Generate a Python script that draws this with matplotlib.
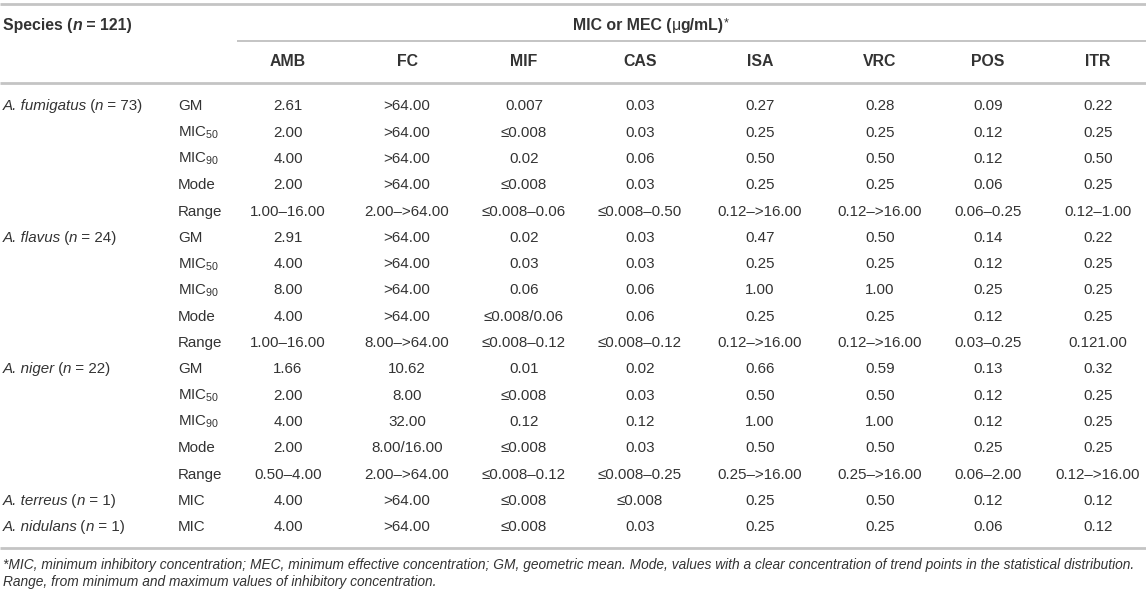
import matplotlib
matplotlib.use("Agg")
import matplotlib.pyplot as plt

plt.rcParams['font.family'] = ['Liberation Sans', 'DejaVu Sans']
plt.rcParams['mathtext.fontset'] = 'custom'
plt.rcParams['mathtext.rm'] = 'Liberation Sans'
plt.rcParams['mathtext.it'] = 'Liberation Sans:italic'
plt.rcParams['mathtext.bf'] = 'Liberation Sans:bold'

# ---------------- data ----------------
species_names = ["A. fumigatus", "A. flavus", "A. niger", "A. terreus", "A. nidulans"]
species_n = ["73", "24", "22", "1", "1"]
species_nrows = [5, 5, 5, 1, 1]
stats_block = ["GM", r"MIC$_{50}$", r"MIC$_{90}$", "Mode", "Range"]
stats = stats_block * 3 + ["MIC", "MIC"]

drugs = ["AMB", "FC", "MIF", "CAS", "ISA", "VRC", "POS", "ITR"]

AMB = ["2.61", "2.00", "4.00", "2.00", "1.00–16.00",
       "2.91", "4.00", "8.00", "4.00", "1.00–16.00",
       "1.66", "2.00", "4.00", "2.00", "0.50–4.00",
       "4.00", "4.00"]
FC = [">64.00", ">64.00", ">64.00", ">64.00", "2.00–>64.00",
      ">64.00", ">64.00", ">64.00", ">64.00", "8.00–>64.00",
      "10.62", "8.00", "32.00", "8.00/16.00", "2.00–>64.00",
      ">64.00", ">64.00"]
MIF = ["0.007", "≤0.008", "0.02", "≤0.008", "≤0.008–0.06",
       "0.02", "0.03", "0.06", "≤0.008/0.06", "≤0.008–0.12",
       "0.01", "≤0.008", "0.12", "≤0.008", "≤0.008–0.12",
       "≤0.008", "≤0.008"]
CAS = ["0.03", "0.03", "0.06", "0.03", "≤0.008–0.50",
       "0.03", "0.03", "0.06", "0.06", "≤0.008–0.12",
       "0.02", "0.03", "0.12", "0.03", "≤0.008–0.25",
       "≤0.008", "0.03"]
ISA = ["0.27", "0.25", "0.50", "0.25", "0.12–>16.00",
       "0.47", "0.25", "1.00", "0.25", "0.12–>16.00",
       "0.66", "0.50", "1.00", "0.50", "0.25–>16.00",
       "0.25", "0.25"]
VRC = ["0.28", "0.25", "0.50", "0.25", "0.12–>16.00",
       "0.50", "0.25", "1.00", "0.25", "0.12–>16.00",
       "0.59", "0.50", "1.00", "0.50", "0.25–>16.00",
       "0.50", "0.25"]
POS = ["0.09", "0.12", "0.12", "0.06", "0.06–0.25",
       "0.14", "0.12", "0.25", "0.12", "0.03–0.25",
       "0.13", "0.12", "0.12", "0.25", "0.06–2.00",
       "0.12", "0.06"]
ITR = ["0.22", "0.25", "0.50", "0.25", "0.12–1.00",
       "0.22", "0.25", "0.25", "0.25", "0.121.00",
       "0.32", "0.25", "0.25", "0.25", "0.12–>16.00",
       "0.12", "0.12"]
columns = [AMB, FC, MIF, CAS, ISA, VRC, POS, ITR]

footnote1 = ("*MIC, minimum inhibitory concentration; MEC, minimum effective concentration; "
             "GM, geometric mean. Mode, values with a clear concentration of trend points in the statistical distribution.")
footnote2 = "Range, from minimum and maximum values of inhibitory concentration."

# ---------------- layout ----------------
W, H = 1146, 597
fig = plt.figure(figsize=(W / 100, H / 100), dpi=100)
ax = fig.add_axes([0, 0, 1, 1])
ax.set_xlim(0, W)
ax.set_ylim(H, 0)
ax.axis("off")
fig.canvas.draw()
rend = fig.canvas.get_renderer()

txt = "#333333"
linec = "#c4c4c4"
fs = 10.9
fs_h = 11.4
base = 5.4  # baseline offset from row centre (px)

col_x = [288, 407, 524, 640, 760, 880, 988, 1098]
x_species = 3
x_stat = 178
row0, drow = 105, 26.3


def width_of(s, **kw):
    """advance width (px) of a string, including spaces"""
    t1 = ax.text(0, 0, s + "|", **kw)
    t2 = ax.text(0, 0, "|", **kw)
    w = t1.get_window_extent(renderer=rend).width - t2.get_window_extent(renderer=rend).width
    t1.remove(); t2.remove()
    return w


def runs(x, y, parts, size, weight="normal"):
    """draw a sequence of (text, style[, weight, size, dy]) runs left to right"""
    for p in parts:
        s, style = p[0], p[1]
        w_ = p[2] if len(p) > 2 else weight
        sz = p[3] if len(p) > 3 else size
        dy = p[4] if len(p) > 4 else 0
        kw = dict(fontsize=sz, fontstyle=style, fontweight=w_, color=txt)
        ax.text(x, y + base + dy, s, ha="left", va="baseline", **kw)
        x += width_of(s, **kw)
        if style == "italic" and len(s) > 1:
            x -= 1.5
    return x


# rules
ax.hlines(4, 0, W, color=linec, lw=2.0)
ax.hlines(41, 237, W, color=linec, lw=1.4)
ax.hlines(82.5, 0, W, color=linec, lw=2.0)
ax.hlines(548, 0, W, color=linec, lw=2.0)

# headers
runs(x_species, 25, [("Species (", "normal"), ("n", "italic"), (" = 121)", "normal")],
     fs_h, "bold")
runs(573, 25, [("MIC or MEC (", "normal"), ("μ", "normal", "normal"), ("g/mL)", "normal"),
               ("*", "normal", "normal", fs_h * 0.8, -4)], fs_h, "bold")
for d, x in zip(drugs, col_x):
    ax.text(x, 61 + base, d, fontsize=fs_h, fontweight="bold", color=txt,
            ha="center", va="baseline")

# species labels
r = 0
for name, n, k in zip(species_names, species_n, species_nrows):
    runs(x_species, row0 + r * drow,
         [(name, "italic"), (" (", "normal"), ("n", "italic"), (f" = {n})", "normal")], fs)
    r += k

# stats & values
for i, st in enumerate(stats):
    y = row0 + i * drow + base
    ax.text(x_stat, y, st, fontsize=fs, color=txt, ha="left", va="baseline")
    for col, x in zip(columns, col_x):
        ax.text(x, y, col[i], fontsize=fs, color=txt, ha="center", va="baseline")

# footnotes (fit to width)
w1 = width_of(footnote1, fontsize=fs, fontstyle="italic")
fs_foot = fs * (1138 - x_species) / w1
ax.text(x_species, 564 + base, footnote1, fontsize=fs_foot, fontstyle="italic", color=txt,
        ha="left", va="baseline")
ax.text(x_species, 581 + base, footnote2, fontsize=fs_foot, fontstyle="italic", color=txt,
        ha="left", va="baseline")

fig.savefig("out.png", dpi=100)
